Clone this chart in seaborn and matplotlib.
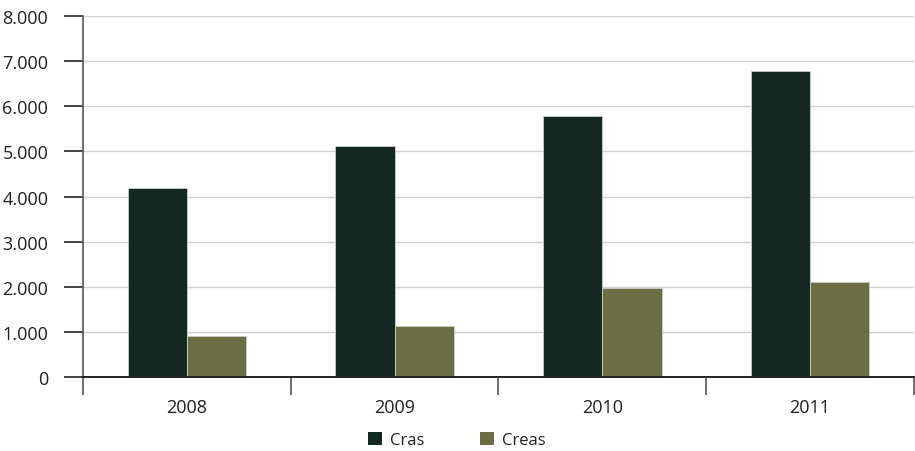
import matplotlib
matplotlib.use("Agg")
import matplotlib.pyplot as plt
from matplotlib.ticker import FuncFormatter, FixedLocator
import seaborn as sns
import pandas as pd

years = ["2008", "2009", "2010", "2011"]
cras = [4180, 5130, 5790, 6790]
creas = [915, 1140, 1970, 2100]
series_names = ["Cras", "Creas"]
colors = ["#132820", "#6b6e42"]

df = pd.DataFrame({
    "ano": years * 2,
    "valor": cras + creas,
    "tipo": [series_names[0]] * 4 + [series_names[1]] * 4,
})

sns.set_style("white")
plt.rcParams["font.family"] = ["Open Sans", "DejaVu Sans"]
text_color = "#231f20"

fig = plt.figure(figsize=(9.15, 4.52), dpi=100)
ax = fig.add_axes([0.0907, 0.1637, 0.9082, 0.7987])

sns.barplot(data=df, x="ano", y="valor", hue="tipo", palette=colors,
            width=0.57, edgecolor="#c9cfc9", linewidth=0.6, ax=ax,
            saturation=1, legend=True)

ax.set_ylim(0, 8000)
ax.set_xlim(-0.5, 3.5)
ax.set_yticks(range(0, 8001, 1000))
ax.yaxis.set_major_formatter(FuncFormatter(lambda v, p: f"{int(v):,}".replace(",", ".")))
ax.grid(axis="y", color="#d0d0d0", linewidth=1.0)
ax.set_axisbelow(True)

ax.set_xlabel("")
ax.set_ylabel("")

# category boundary ticks
ax.xaxis.set_minor_locator(FixedLocator([-0.5, 0.5, 1.5, 2.5, 3.5]))
ax.tick_params(axis="x", which="major", bottom=True, length=0, pad=15,
               labelsize=13, labelcolor=text_color)
ax.tick_params(axis="x", which="minor", bottom=True, length=13, width=1.2,
               color="#555555", direction="out")
ax.tick_params(axis="y", which="major", left=True, length=14, width=1.2,
               color="#222222", direction="out", pad=11, labelsize=13,
               labelcolor=text_color)

for s in ["top", "right"]:
    ax.spines[s].set_visible(False)
ax.spines["left"].set_color("#555555")
ax.spines["left"].set_linewidth(1.2)
ax.spines["bottom"].set_color("#222222")
ax.spines["bottom"].set_linewidth(1.4)

handles, labels = ax.get_legend_handles_labels()
ax.legend(handles, labels, loc="center", bbox_to_anchor=(0.45, -0.175),
          ncol=2, frameon=False, fontsize=12, handlelength=0.85, handleheight=0.85,
          handletextpad=0.5, columnspacing=3.3, labelcolor=text_color,
          borderaxespad=0, borderpad=0)
for h in ax.get_legend().legend_handles:
    h.set_edgecolor("none")

fig.savefig("out.png", dpi=100)
